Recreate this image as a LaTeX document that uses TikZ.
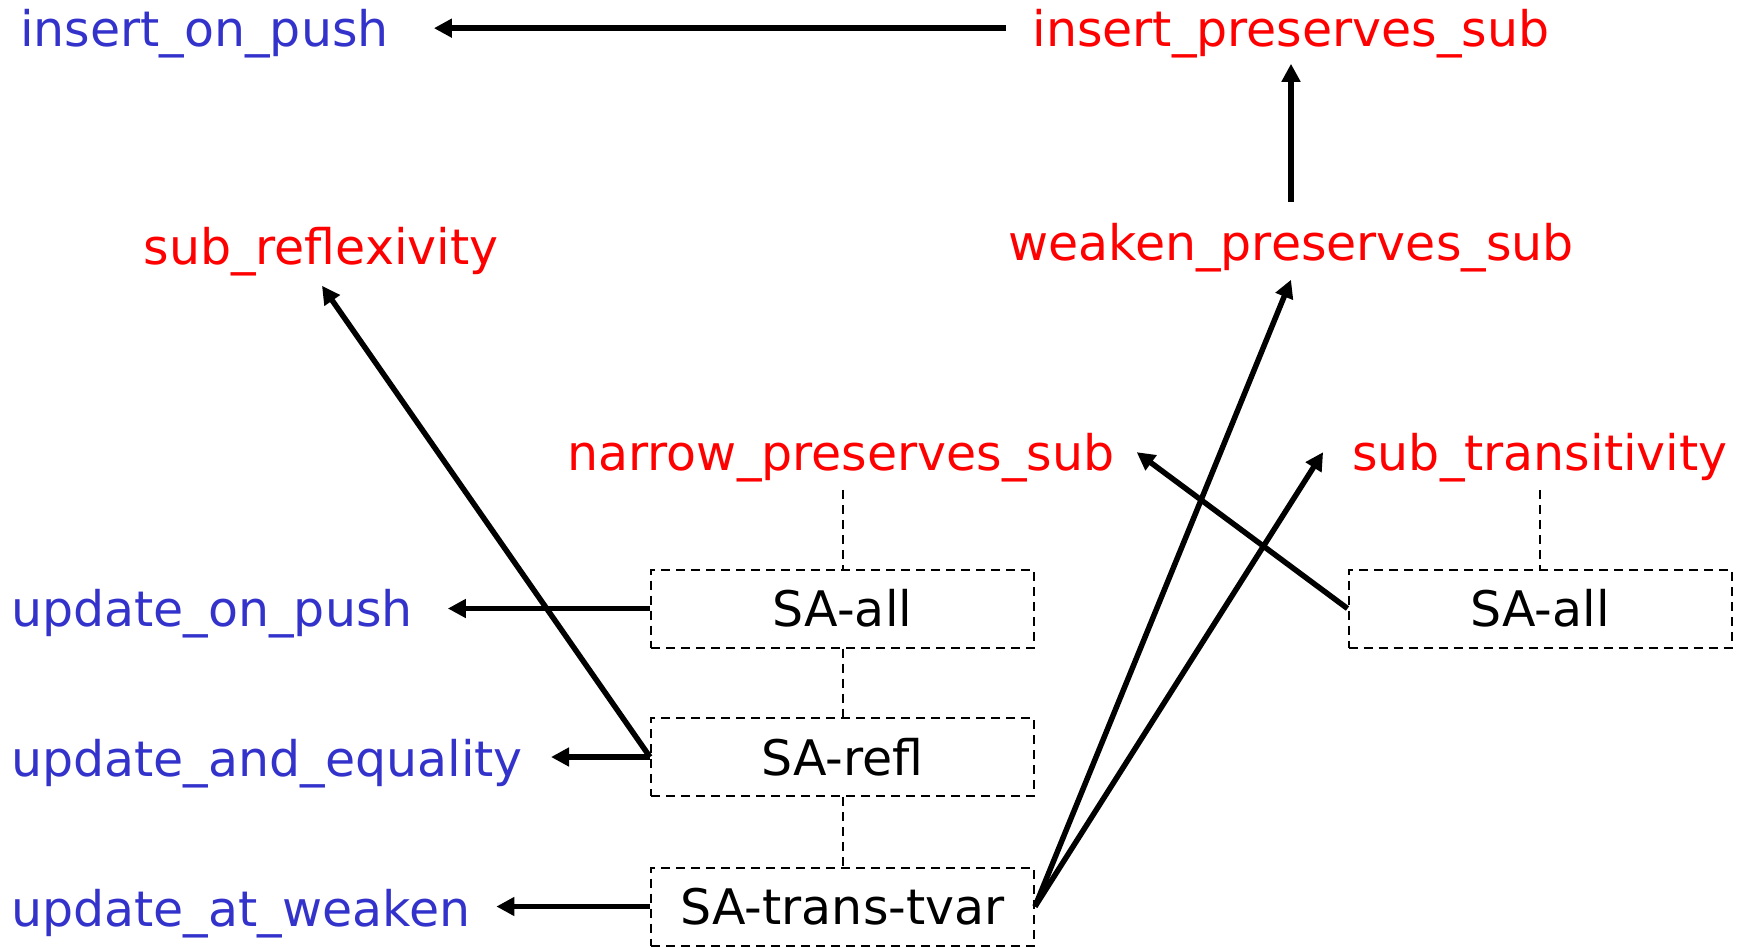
\documentclass[tikz,border=0pt]{standalone}
\usepackage{fontspec}
\setmainfont{DejaVu Sans}
\usetikzlibrary{arrows.meta,calc}
\definecolor{lblue}{RGB}{51,51,204}
\definecolor{lred}{RGB}{255,0,0}
\begin{document}
\begin{tikzpicture}[x=1pt,y=-1pt,
  lbl/.style={inner sep=0pt, font=\fontsize{49}{58}\selectfont},
  bluelbl/.style={lbl, text=lblue, anchor=base west},
  redlbl/.style={lbl, text=lred, anchor=base},
  rulebox/.style={draw, line width=2pt, dash pattern=on 9pt off 6pt,
    minimum width=383pt, minimum height=78pt, inner sep=0pt,
    font=\fontsize{49}{58}\selectfont},
  arr/.style={line width=5.5pt, -{Triangle[length=18pt,width=18pt]}},
  dsh/.style={line width=2pt, dash pattern=on 9pt off 6pt}]
\useasboundingbox (0,0) rectangle (1738,948);

\node[bluelbl] (iop) at (20,46) {insert\_on\_push};
\node[redlbl] (ips) at (1291,46) {insert\_preserves\_sub};
\node[redlbl] (wps) at (1291,260) {weaken\_preserves\_sub};
\node[redlbl] (srf) at (321,264) {sub\_reflexivity};
\node[redlbl] (nps) at (841,470) {narrow\_preserves\_sub};
\node[redlbl] (str) at (1540,470) {sub\_transitivity};

\node[rulebox] (sa1) at (842.5,608.5) {SA-all};
\node[rulebox] (sar) at (842.5,757) {SA-refl};
\node[rulebox] (sat) at (842.5,906.5) {SA-trans-tvar};
\node[rulebox] (sa2) at (1540,608.5) {SA-all};

\node[bluelbl] (uop) at (11,626) {update\_on\_push};
\node[bluelbl] (uae) at (11,776) {update\_and\_equality};
\node[bluelbl] (uaw) at (11,926) {update\_at\_weaken};

% arrows
\draw[arr] ($(ips.west)+(-26,-5)$) -- ($(iop.east)+(45,-5)$);
\draw[arr] ($(wps.north)+(0,-21)$) -- ($(wps.north |- ips.south)+(0,6)$);
\draw[arr] (sa1.west) -- ($(sa1.west -| uop.east)+(35,0)$);
\draw[arr] (sar.west) -- ($(sar.west -| uae.east)+(28,0)$);
\draw[arr] (sat.west) -- ($(sat.west -| uaw.east)+(26,0)$);
\draw[arr] (sar.west) -- ($(srf.south)+(1,10)$);
\draw[arr] (sat.east) -- ($(wps.south)+(0,8)$);
\draw[arr] (sat.east) -- ($(str.west)+(-29,-5)$);
\draw[arr] (sa2.west) -- ($(nps.east)+(22,-5)$);

% dashed links
\draw[dsh] ($(sa1.north |- nps.south)+(0,8)$) -- (sa1.north);
\draw[dsh] ($(sa2.north |- str.south)+(0,8)$) -- (sa2.north);
\draw[dsh] (sa1.south) -- (sar.north);
\draw[dsh] (sar.south) -- (sat.north);
\end{tikzpicture}
\end{document}
